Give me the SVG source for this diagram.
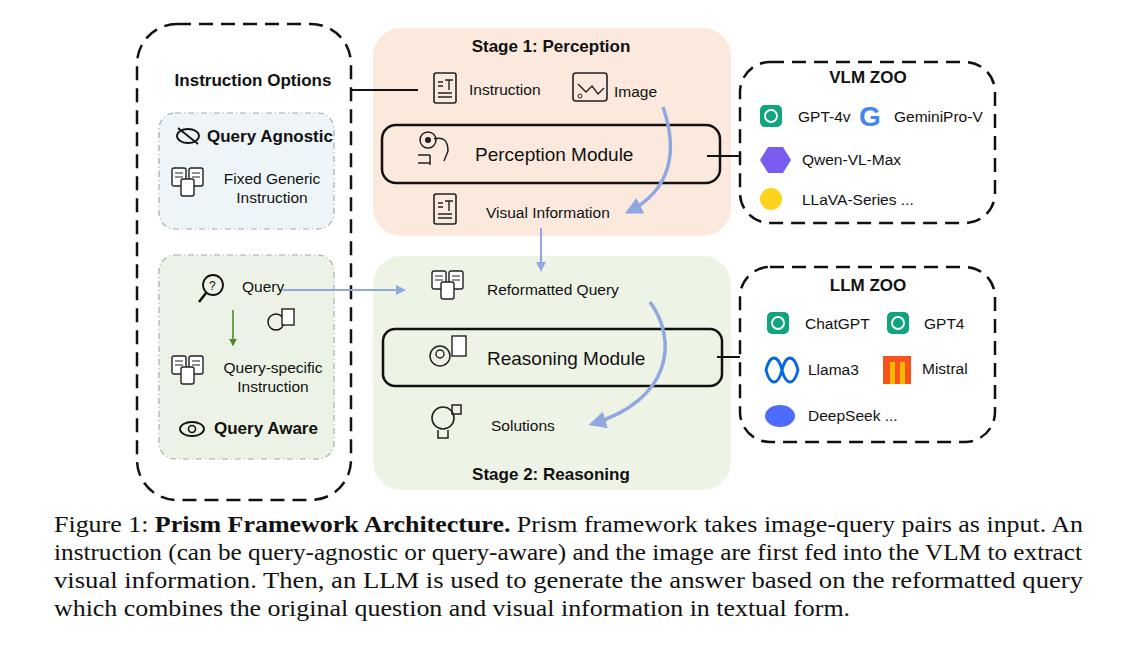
<svg xmlns="http://www.w3.org/2000/svg" width="1129" height="646" viewBox="0 0 1129 646">
<defs>
<marker id="ab" viewBox="0 0 10 10" refX="8" refY="5" markerWidth="5" markerHeight="5" orient="auto"><path d="M0,0 L10,5 L0,10 z" fill="#8fa8e0"/></marker>
<marker id="ag" viewBox="0 0 10 10" refX="8" refY="5" markerWidth="5" markerHeight="5" orient="auto"><path d="M0,0 L10,5 L0,10 z" fill="#4d8a2e"/></marker>
<g id="doc"><rect x="0" y="0" width="22" height="30" rx="2" fill="none" stroke="#222" stroke-width="1.6"/><path d="M4,9h5M4,13h5M4,20h14M4,24h14M11,7h8M15,7v10" stroke="#222" stroke-width="1.4" fill="none"/></g>
<g id="docs"><rect x="0" y="0" width="14" height="18" rx="2" fill="#fff" stroke="#222" stroke-width="1.4"/><rect x="17" y="0" width="14" height="18" rx="2" fill="#fff" stroke="#222" stroke-width="1.4"/><rect x="9" y="11" width="13" height="17" rx="2" fill="#fff" stroke="#222" stroke-width="1.4"/><path d="M3,5h8M3,9h8M20,5h8M20,9h8" stroke="#222" stroke-width="1.2"/></g>
<g id="gpt"><rect x="0" y="0" width="22" height="22" rx="5" fill="#10a37f"/><circle cx="11" cy="11" r="6" fill="none" stroke="#fff" stroke-width="1.8"/></g>
</defs>
<style>
text{font-family:"Liberation Sans",Arial,sans-serif;fill:#111}
.t{font-size:15.5px}
.b{font-size:17px;font-weight:bold}
.m{font-size:19px}
.cap{font-family:"Liberation Serif","Times New Roman",serif;font-size:24px}
.dash{fill:#fff;stroke:#111;stroke-width:2.5;stroke-dasharray:14 8}
.dd{stroke:#aaa;stroke-width:1.2;stroke-dasharray:6 3 1 3}
.mod{fill:none;stroke:#111;stroke-width:2.5}
.bl{fill:none;stroke:#8fa8e0;stroke-width:2}
.blt{fill:none;stroke:#8fa8e0;stroke-width:3.5}
</style>
<rect width="1129" height="646" fill="#fff"/>
<g id="stage1"><rect x="373" y="28" width="358" height="208" rx="28" fill="#fbe9de"/><text class="b" x="551" y="52" text-anchor="middle">Stage 1: Perception</text></g>
<g id="stage2"><rect x="373" y="256" width="358" height="234" rx="28" fill="#edf4e6"/><text class="b" x="551" y="480" text-anchor="middle">Stage 2: Reasoning</text></g>
<g id="instruction-options"><rect class="dash" x="137" y="24" width="214" height="476" rx="40"/><text class="b" x="253" y="86" text-anchor="middle">Instruction Options</text></g>
<g id="query-agnostic"><rect class="dd" x="159" y="113" width="175" height="116" rx="16" fill="#eef5f9"/>
<ellipse cx="188" cy="136" rx="11" ry="7" fill="none" stroke="#111" stroke-width="1.8"/><path d="M178,128 L198,144" stroke="#111" stroke-width="1.8"/>
<text class="b" x="207" y="142">Query Agnostic</text>
<use href="#docs" x="172" y="168"/><text class="t" x="272" y="184" text-anchor="middle">Fixed Generic</text><text class="t" x="272" y="203" text-anchor="middle">Instruction</text></g>
<g id="query-aware"><rect class="dd" x="159" y="255" width="175" height="204" rx="16" fill="#ecf3e6"/>
<circle cx="213" cy="285" r="10" fill="none" stroke="#111" stroke-width="1.8"/><path d="M206,293 L199,302" stroke="#111" stroke-width="2.5"/><text x="209" y="290" style="font-size:12px">?</text>
<text class="t" x="242" y="292">Query</text>
<circle cx="276" cy="322" r="8" fill="none" stroke="#111" stroke-width="1.4"/><rect x="282" y="309" width="12" height="16" fill="#fff" stroke="#111" stroke-width="1.3"/>
<use href="#docs" x="172" y="356"/><text class="t" x="273" y="373" text-anchor="middle">Query-specific</text><text class="t" x="273" y="392" text-anchor="middle">Instruction</text>
<ellipse cx="192" cy="429" rx="12" ry="7" fill="none" stroke="#111" stroke-width="1.8"/><circle cx="192" cy="429" r="3.5" fill="none" stroke="#111" stroke-width="1.6"/>
<text class="b" x="214" y="434">Query Aware</text></g>
<g id="instruction"><use href="#doc" x="434" y="73"/><text class="t" x="469" y="95">Instruction</text></g>
<g id="image"><rect x="573" y="73" width="34" height="28" rx="3" fill="none" stroke="#222" stroke-width="1.6"/><path d="M578,84 l8,8 l6,-6 l6,8 l6,-6" fill="none" stroke="#222" stroke-width="1.4"/><circle cx="580" cy="96" r="2" fill="none" stroke="#222"/><text class="t" x="614" y="97">Image</text></g>
<g id="perception-module"><rect class="mod" x="382" y="125" width="338" height="58" rx="14"/>
<circle cx="428" cy="140" r="8" fill="none" stroke="#222" stroke-width="1.5"/><circle cx="428" cy="140" r="3" fill="#222"/><path d="M434,139 q14,-4 14,12 l-4,10 M418,155 h12 M418,163 h12 M430,155 v10" fill="none" stroke="#222" stroke-width="1.5"/>
<text class="m" x="475" y="161">Perception Module</text></g>
<g id="visual-information"><use href="#doc" x="434" y="194"/><text class="t" x="486" y="218">Visual Information</text></g>
<g id="reformatted-query"><use href="#docs" x="432" y="271"/><text class="t" x="487" y="295">Reformatted Query</text></g>
<g id="reasoning-module"><rect class="mod" x="383" y="329" width="339" height="57" rx="12"/>
<circle cx="440" cy="356" r="10" fill="none" stroke="#222" stroke-width="1.5"/><circle cx="440" cy="354" r="4" fill="none" stroke="#222" stroke-width="1.4"/><rect x="452" y="336" width="14" height="20" fill="#fff" stroke="#222" stroke-width="1.4"/>
<text class="m" x="487" y="365">Reasoning Module</text></g>
<g id="solutions"><circle cx="443" cy="418" r="11" fill="none" stroke="#222" stroke-width="1.6"/><path d="M438,430 v8 h10 v-8 M452,405 h9 v9 h-9 z" fill="none" stroke="#222" stroke-width="1.5"/><text class="t" x="491" y="431">Solutions</text></g>
<g id="vlm-zoo"><rect class="dash" x="740" y="62" width="255" height="161" rx="30"/><text class="b" x="868" y="83" text-anchor="middle">VLM ZOO</text>
<use href="#gpt" x="760" y="105"/><text class="t" x="798" y="122">GPT-4v</text>
<text x="859" y="126" style="font-size:28px;font-weight:bold;fill:#4285f4">G</text><text class="t" x="894" y="122">GeminiPro-V</text>
<path d="M760,160 l8,-13 h15 l8,13 l-8,13 h-15 z" fill="#7b5cf0"/><text class="t" x="802" y="165">Qwen-VL-Max</text>
<circle cx="771" cy="199" r="11" fill="#ffd21e"/><text class="t" x="802" y="205">LLaVA-Series ...</text></g>
<g id="llm-zoo"><rect class="dash" x="740" y="267" width="255" height="175" rx="30"/><text class="b" x="868" y="291" text-anchor="middle">LLM ZOO</text>
<use href="#gpt" x="767" y="312"/><text class="t" x="805" y="329">ChatGPT</text>
<use href="#gpt" x="887" y="312"/><text class="t" x="924" y="329">GPT4</text>
<path d="M766,370 c4,-16 12,-16 16,0 c4,16 12,16 16,0 c-4,-16 -12,-16 -16,0 c-4,16 -12,16 -16,0z" fill="none" stroke="#0668e1" stroke-width="3"/><text class="t" x="808" y="375">Llama3</text>
<rect x="883" y="356" width="28" height="28" fill="#f7531b"/><rect x="890" y="362" width="5" height="22" fill="#ffb800"/><rect x="900" y="362" width="5" height="22" fill="#ffb800"/><text class="t" x="922" y="374">Mistral</text>
<ellipse cx="780" cy="416" rx="15" ry="11" fill="#4d6bfe"/><text class="t" x="808" y="421">DeepSeek ...</text></g>
<g id="connectors">
<path d="M351,90 H418" stroke="#111" stroke-width="2" fill="none"/>
<path d="M707,156 H740" stroke="#111" stroke-width="2" fill="none"/>
<path d="M717,357 H740" stroke="#111" stroke-width="2" fill="none"/>
<path class="blt" d="M663,107 C678,150 672,190 628,212" marker-end="url(#ab)"/>
<path class="bl" d="M541,228 V270" marker-end="url(#ab)"/>
<path class="bl" d="M283,290 H404" marker-end="url(#ab)"/>
<path class="blt" d="M650,302 C678,340 672,400 592,424" marker-end="url(#ab)"/>
<path d="M233,310 V345" stroke="#4d8a2e" stroke-width="1.6" fill="none" marker-end="url(#ag)"/>
</g>
<g id="caption">
<text class="cap" x="54" y="532" textLength="1029" lengthAdjust="spacingAndGlyphs">Figure 1: <tspan font-weight="bold">Prism Framework Architecture.</tspan> Prism framework takes image-query pairs as input. An</text>
<text class="cap" x="54" y="560" textLength="1028" lengthAdjust="spacingAndGlyphs">instruction (can be query-agnostic or query-aware) and the image are first fed into the VLM to extract</text>
<text class="cap" x="54" y="588" textLength="1029" lengthAdjust="spacingAndGlyphs">visual information. Then, an LLM is used to generate the answer based on the reformatted query</text>
<text class="cap" x="54" y="616" textLength="796" lengthAdjust="spacingAndGlyphs">which combines the original question and visual information in textual form.</text>
</g>
</svg>
